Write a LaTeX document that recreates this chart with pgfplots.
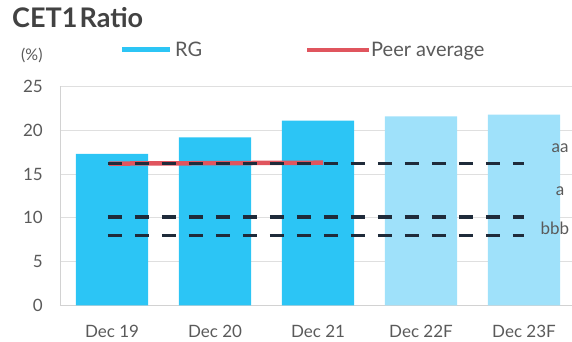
\documentclass[border=0pt]{standalone}
\usepackage{pgfplots}
\pgfplotsset{compat=1.18}
\usepackage{fontspec}
\setmainfont{Lato}
\definecolor{rgblue}{HTML}{2CC5F5}
\definecolor{rglight}{HTML}{9FE1FA}
\definecolor{peerred}{HTML}{E0555E}
\definecolor{dashnavy}{HTML}{1F2B3A}
\definecolor{txtgray}{HTML}{5A5A5A}
\definecolor{titlegray}{HTML}{424242}
\begin{document}
\begin{tikzpicture}
\useasboundingbox (-60pt,-36.5pt) rectangle (512pt,305.5pt);
\begin{axis}[
  at={(0pt,0pt)}, anchor=south west,
  scale only axis, width=512pt, height=219pt,
  xmin=-0.505, xmax=4.466, ymin=0, ymax=25,
  ytick={0,5,...,25},
  xtick={0,1,2,3,4},
  xticklabels={Dec 19,Dec 20,Dec 21,Dec 22F,Dec 23F},
  axis lines*=left,
  axis line style={draw=gray!35, line width=0.8pt, -},
  ymajorgrids, grid style={draw=gray!25, line width=0.8pt},
  major tick length=0pt,
  tick label style={font=\fontsize{17}{20}\selectfont, text=txtgray},
  yticklabel style={anchor=east, inner sep=0pt, xshift=-17pt},
  xticklabel style={anchor=base, inner sep=0pt, yshift=-32pt},
  /pgf/number format/assume math mode=true,
  clip=false,
  legend columns=2,
  legend style={at={(0.1211,1.1667)}, anchor=west, draw=none, fill=none,
    inner sep=0pt, font=\fontsize{20}{23}\selectfont, text=txtgray,
    nodes={inner xsep=5pt, inner ysep=0pt},
    /tikz/every even column/.append style={column sep=98pt}},
]
\addplot[ybar, bar width=0.7, bar shift=0pt, fill=rgblue, draw=none,
  legend image code/.code={\fill[rgblue] (0pt,-2.5pt) rectangle (48pt,2.5pt);}]
  coordinates {(0,17.3) (1,19.2) (2,21.1)};
\addlegendentry{RG}
\addplot[ybar, bar width=0.7, bar shift=0pt, fill=rglight, draw=none, forget plot]
  coordinates {(3,21.6) (4,21.8)};
\addplot[peerred, line width=4.5pt,
  legend image code/.code={\draw[peerred, line width=4pt] (0pt,0pt) -- (57pt,0pt);
    \draw[peerred, line width=4pt, overlay] (56pt,0pt) -- (62pt,0pt);}]
  coordinates {(-0.03,16.2) (2.05,16.3)};
\addlegendentry{Peer average}
\addplot[dashnavy, line width=3.6pt, dash pattern=on 14.5pt off 12.5pt, forget plot]
  coordinates {(-0.04,16.2) (4.0,16.2)};
\addplot[dashnavy, line width=3.6pt, dash pattern=on 14.5pt off 12.5pt, forget plot]
  coordinates {(-0.04,10.1) (4.0,10.1)};
\addplot[dashnavy, line width=3.6pt, dash pattern=on 14.5pt off 12.5pt, forget plot]
  coordinates {(-0.04,8.0) (4.0,8.0)};
\node[font=\fontsize{17}{20}\selectfont, text=txtgray, anchor=center] at (axis cs:4.35,18.0) {aa};
\node[font=\fontsize{17}{20}\selectfont, text=txtgray, anchor=center] at (axis cs:4.35,13.0) {a};
\node[font=\fontsize{17}{20}\selectfont, text=txtgray, anchor=center] at (axis cs:4.30,8.85) {bbb};
\end{axis}
\node[anchor=base west, inner sep=0pt, font=\bfseries\fontsize{27}{32}\selectfont, text=titlegray] at (-48pt,277.5pt) {CET1\hspace{0.08em}Ratio};
\node[anchor=base west, inner sep=0pt, font=\fontsize{16}{19}\selectfont, text=txtgray] at (-39pt,244.5pt) {(\%)};
\end{tikzpicture}
\end{document}
